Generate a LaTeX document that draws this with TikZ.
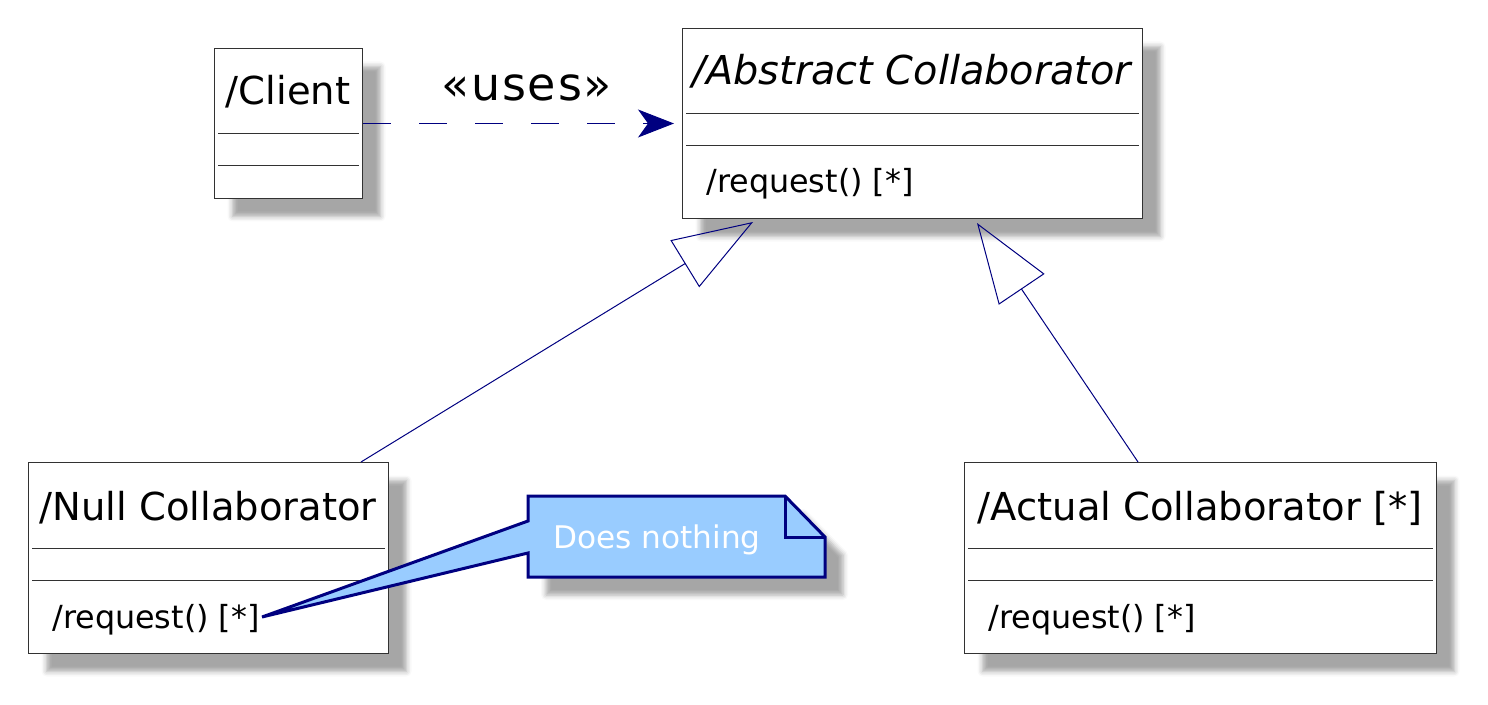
\documentclass[tikz,border=0pt]{standalone}
\usepackage{fontspec}
\setmainfont{DejaVu Sans}
\usetikzlibrary{arrows.meta, positioning, calc, shadows.blur}
\definecolor{umlnavy}{RGB}{0,0,128}
\definecolor{notefill}{RGB}{153,204,255}
\definecolor{boxline}{RGB}{50,50,50}
\tikzset{
  umlshadow/.style = {blur shadow={shadow xshift=9pt, shadow yshift=-9pt,
                      shadow blur radius=2.5pt, shadow opacity=35}},
  classbox/.style  = {draw=boxline, fill=white, line width=0.5pt, inner sep=0pt,
                      anchor=north west, umlshadow},
  cname/.style     = {font=\fontsize{19.25pt}{22pt}\selectfont, anchor=base, inner sep=0pt},
  op/.style        = {font=\fontsize{15.9pt}{18pt}\selectfont, anchor=base west, inner sep=0pt},
  sep/.style       = {draw=boxline, line width=0.5pt},
  uses/.style      = {draw=umlnavy, line width=0.5pt, dash pattern=on 14pt off 14pt,
                      -{Stealth[length=18pt, width=14pt, inset=5pt, fill=umlnavy]}},
  inherit/.style   = {draw=umlnavy, line width=0.5pt,
                      -{Triangle[open, length=40pt, width=27.5pt]}},
  note/.style      = {draw=umlnavy, fill=notefill, line width=1.5pt, line join=miter},
  notetext/.style  = {font=\fontsize{15.6pt}{18pt}\selectfont, text=white, anchor=base, inner sep=0pt},
}

\begin{document}
\begin{tikzpicture}[x=0.5pt, y=-0.5pt]
  \useasboundingbox (0,0) rectangle (1488,705);

  % classes
  \node[classbox, minimum width=74pt, minimum height=75pt] (client) at (214,48) {};
  \node[classbox, minimum width=230pt, minimum height=95pt] (abstract) at (682,28) {};
  \node[classbox, minimum width=180pt, minimum height=95.5pt] (null) at (28,462) {};
  \node[classbox, minimum width=236pt, minimum height=95.5pt] (actual) at (964,462) {};

  \foreach \cls in {client, abstract, null, actual} {
    \foreach \off in {86, 118}
      \draw[sep] ($(\cls.north west)+(4,\off)$) -- ($(\cls.north east)+(-4,\off)$);
  }

  \node[cname] (clientname) at (288,105) {/Client};
  \node[cname, font=\fontsize{19.9pt}{22pt}\selectfont\itshape] (abstractname) at (912,85) {/Abstract Collaborator};
  \node[cname] (nullname) at (208,520) {/Null Collaborator};
  \node[cname] (actualname) at (1200,520) {/Actual Collaborator [*]};

  \node[op] (abstractop) at (706,193) {/request() [*]};
  \node[op] (nullop) at (52,628) {/request() [*]};
  \node[op] (actualop) at (988,628) {/request() [*]};

  % relations
  \draw[uses, shorten >=4pt] (client.east) -- (abstract.west)
    node[midway, anchor=base, xshift=2pt, yshift=11.5pt,
         font=\fontsize{23pt}{26pt}\selectfont\addfontfeature{LetterSpace=4}] (useslabel) {«uses»};
  \coordinate (absl) at ($(abstract.south west)+(71,3)$);
  \coordinate (absr) at ($(abstract.south west)+(295,4)$);
  \draw[inherit] ($(null.north west)+(333,0)$) -- (absl);
  \draw[inherit] ($(actual.north west)+(174,0)$) -- (absr);

  % note
  \coordinate (tip) at ($(nullop.base east)+(2,-11)$);
  \path[umlshadow] (528,496) -- (785,496) -- (825,537) -- (825,577) -- (528,577) -- cycle;
  \path[note] (528,496) -- (785,496) -- (825,537) -- (825,577) -- (528,577)
    -- (528,553) -- (tip) -- (528,521) -- cycle;
  \draw[draw=umlnavy, line width=1.5pt] (785,496) -- (785,537) -- (825,537);
  \node[notetext] (note) at (657,548) {Does nothing};
\end{tikzpicture}
\end{document}
